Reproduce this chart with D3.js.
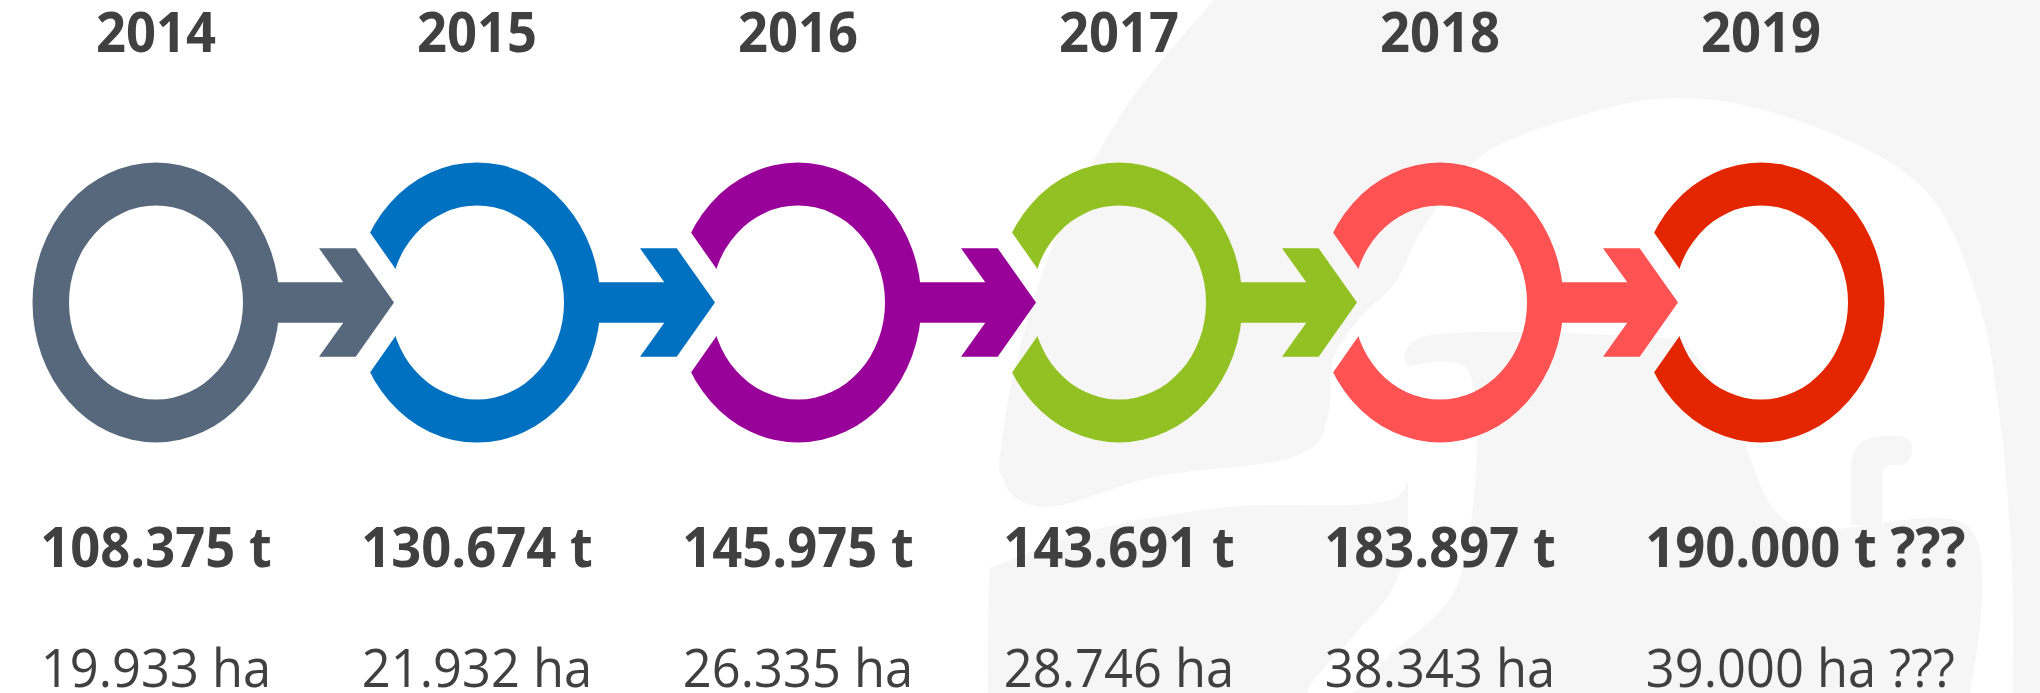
<!DOCTYPE html>
<html>
<head>
<meta charset="utf-8">
<script src="https://cdn.jsdelivr.net/npm/d3@7"></script>
<style>
  body { margin: 0; background: #fff; }
  text { font-family: "Open Sans", "Noto Sans", sans-serif; fill: #404040; }
</style>
</head>
<body>
<svg width="2040" height="693"></svg>
<script>
/* data */
var years = ["2014", "2015", "2016", "2017", "2018", "2019"];
var tons = [108375, 130674, 145975, 143691, 183897, 190000];
var hectares = [19933, 21932, 26335, 28746, 38343, 39000];
var estimated = [false, false, false, false, false, true];
var colors = ["#57687C", "#0070C0", "#990099", "#93C123", "#FF5252", "#E32600"];

var svg = d3.select("svg"),
    w = +svg.attr("width"),
    h = +svg.attr("height");

var de = d3.formatLocale({decimal: ",", thousands: ".", grouping: [3], currency: ["", " €"]});
var fmt = de.format(",d");

var x = d3.scalePoint()
  .domain(years)
  .range([156, 1761]);

var cy = 302.5;
var ring = {rx: 123.5, ry: 140, irx: 87, iry: 97};
var squeeze = 0.955;

// faint watermark in the background
var bg = svg.append("g").attr("class", "watermark");
var curved = d3.line().curve(d3.curveCatmullRom.alpha(0.5));

var leftEdge = [[1214, 0], [1124, 110], [1054, 243], [1013, 376], [999, 464], [990, 560], [988, 693]];
bg.append("path")
  .attr("d", curved(leftEdge) + "L" + w + "," + h + "L" + w + ",0Z")
  .attr("fill", "#F6F6F6");

var gapTop = [[975, 430], [999, 470], [1012, 495], [1044, 507], [1154, 477], [1290, 458], [1318, 442], [1329, 410], [1333, 360],
              [1360, 318], [1394, 284], [1422, 230], [1480, 157], [1576, 117], [1673, 98], [1784, 116], [1923, 188],
              [1978, 300], [2000, 420], [2010, 530], [2013, 600], [2013, 693]];
var gapBottom = [[1970, 693], [1970, 528], [1789, 523], [1740, 435], [1700, 362], [1680, 341], [1660, 338], [1420, 338],
                 [1405, 352], [1408, 370], [1408, 480], [1395, 498], [1226, 507], [1083, 533], [992, 567], [965, 575]];
bg.append("path")
  .attr("d", curved(gapTop) + "L" + curved(gapBottom).slice(1) + "Z")
  .attr("fill", "#fff");

var lowGap = [[1408, 367], [1465, 367], [1465, 560], [1445, 605], [1390, 655], [1352, 693], [1308, 693], [1350, 640], [1392, 590], [1408, 545]];
bg.append("path")
  .attr("d", curved(lowGap) + "Z")
  .attr("fill", "#fff");

bg.append("path")
  .attr("d", "M1851,525V470Q1851,436 1884,436H1898Q1912,436 1912,450Q1912,465 1898,465H1892Q1882,465 1882,478V525Z")
  .attr("fill", "#F6F6F6");

function ellipse(cx, rx, ry) {
  return "M" + (cx - rx) + "," + cy +
    "A" + rx + "," + ry + " 0 1,0 " + (cx + rx) + "," + cy +
    "A" + rx + "," + ry + " 0 1,0 " + (cx - rx) + "," + cy + "Z";
}

var step = x.step();
var k = 0.7; // slope of the chevron edges (dx per dy)

function arrowPath(c) {
  var tip = c + step - 83, hw = 20.2, hh = 54.2;
  var p = d3.path();
  p.moveTo(c + 100, cy - hw);
  p.lineTo(tip - 50.7, cy - hw);
  p.lineTo(tip - 75, cy - hh);
  p.lineTo(tip - 38.3, cy - hh);
  p.lineTo(tip, cy);
  p.lineTo(tip - 38.3, cy + hh);
  p.lineTo(tip - 75, cy + hh);
  p.lineTo(tip - 50.7, cy + hw);
  p.lineTo(c + 100, cy + hw);
  p.closePath();
  return p.toString();
}

var defs = svg.append("defs");
years.forEach(function(y, i) {
  if (i === 0) return;
  var c = x(y), cut = c - 58, H = 200;
  defs.append("clipPath").attr("id", "cut" + i)
    .append("path")
    .attr("d", "M" + cut + "," + cy + "L" + (cut - k * H) + "," + (cy - H) + "L" + (c + 200) + "," + (cy - H) +
               "L" + (c + 200) + "," + (cy + H) + "L" + (cut - k * H) + "," + (cy + H) + "Z");
});

var items = svg.append("g").selectAll("g")
  .data(years)
  .join("g");

items.filter(function(d, i) { return i < years.length - 1; })
  .append("path")
  .attr("d", function(d) { return arrowPath(x(d)); })
  .attr("fill", function(d, i) { return colors[i]; });

items.append("path")
  .attr("d", function(d) { return ellipse(x(d), ring.rx, ring.ry) + ellipse(x(d), ring.irx, ring.iry); })
  .attr("fill-rule", "evenodd")
  .attr("fill", function(d, i) { return colors[i]; })
  .attr("clip-path", function(d, i) { return i > 0 ? "url(#cut" + i + ")" : null; });

// labels
items.append("text")
  .attr("transform", function(d) { return "translate(" + x(d) + ",52) scale(" + squeeze + ",1)"; })
  .attr("text-anchor", "middle")
  .style("font-size", "55px")
  .style("font-weight", "700")
  .text(function(d) { return d; });

function label(sel, values, unit, y, size, weight) {
  sel.append("text")
    .attr("transform", function(d) { return "translate(" + x(d) + "," + y + ") scale(" + squeeze + ",1)"; })
    .style("font-size", size + "px")
    .style("font-weight", weight)
    .each(function(d, i) {
      var t = d3.select(this);
      t.append("tspan").text(fmt(values[i]) + " " + unit);
      t.attr("x", -this.getComputedTextLength() / 2);
      if (estimated[i]) t.append("tspan").text(" ???");
    });
}

label(items, tons, "t", 567, 55, 700);
label(items, hectares, "ha", 687, 53, 400);
</script>
</body>
</html>
